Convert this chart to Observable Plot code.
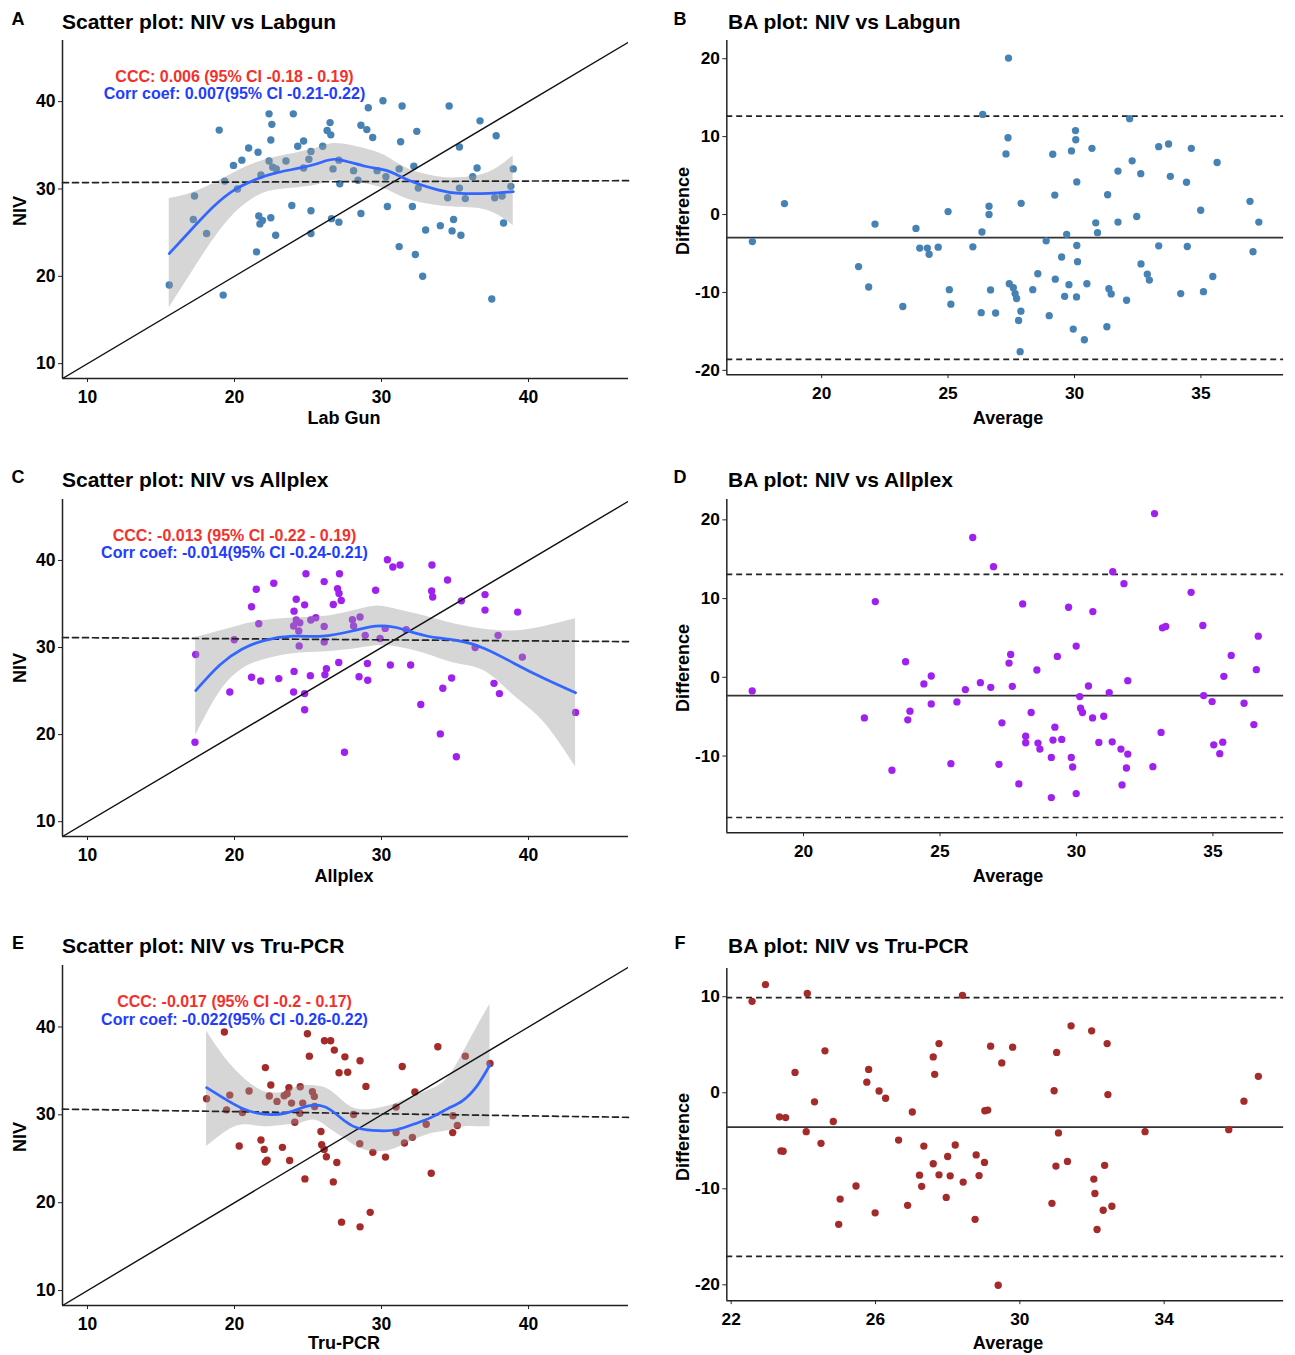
<!DOCTYPE html>
<html><head><meta charset="utf-8">
<script src="https://cdn.jsdelivr.net/npm/d3@7"></script>
<script src="https://cdn.jsdelivr.net/npm/@observablehq/plot@0.6"></script>
<style>
body{margin:0;background:#fff;}
#root{position:relative;width:1295px;height:1355px;background:#fff;font-family:"Liberation Sans",Arial,sans-serif;color:#000;overflow:hidden}
.t{position:absolute;font-weight:bold;white-space:nowrap;line-height:1}
.panel{position:absolute}
</style></head><body><div id="root"></div><script>
// ---------- data ----------
const panelLetters = ["A","B","C","D","E","F"];
const panelTitles = ["Scatter plot: NIV vs Labgun","BA plot: NIV vs Labgun","Scatter plot: NIV vs Allplex","BA plot: NIV vs Allplex","Scatter plot: NIV vs Tru-PCR","BA plot: NIV vs Tru-PCR"];
const xTitles = ["Lab Gun","Average","Allplex","Average","Tru-PCR","Average"];
const yTitles = ["NIV","Difference","NIV","Difference","NIV","Difference"];
const cccTexts = ["CCC: 0.006 (95% CI -0.18 - 0.19)","CCC: -0.013 (95% CI -0.22 - 0.19)","CCC: -0.017 (95% CI -0.2 - 0.17)"];
const corrTexts = ["Corr coef: 0.007(95% CI -0.21-0.22)","Corr coef: -0.014(95% CI -0.24-0.21)","Corr coef: -0.022(95% CI -0.26-0.22)"];

const scatterTicks = [10,20,30,40];
const scatterXDomain = [8.3,46.8];
const scatterYDomain = [8.3,47.0];

// Scatter A: Lab Gun (x) vs NIV (y)
const labgunPts = [[15.56,19.0],[19.23,17.85],[18.96,36.74],[17.28,29.2],[17.2,26.5],[18.1,24.9],[19.33,30.9],[19.93,32.7],[20.2,30.0],[20.5,33.3],[20.96,34.7],[21.6,34.2],[21.5,22.8],[21.8,31.6],[21.65,26.9],[21.73,26.0],[21.9,26.4],[22.35,38.6],[22.54,37.4],[22.47,35.6],[22.35,33.2],[22.6,32.5],[22.84,32.3],[22.47,26.7],[22.8,24.7],[23.5,33.2],[24.0,38.6],[23.9,28.1],[24.3,34.9],[24.7,35.5],[24.7,32.4],[25.06,33.4],[25.2,34.3],[25.2,27.5],[25.2,24.9],[26.0,34.9],[26.3,36.7],[26.55,36.2],[26.5,37.6],[26.7,32.3],[26.6,26.6],[27.1,33.3],[27.16,30.6],[27.1,26.2],[28.1,32.1],[28.4,31.0],[28.6,27.2],[28.6,37.3],[29.0,36.8],[29.1,39.3],[29.4,35.9],[29.7,32.1],[30.1,40.1],[30.3,31.4],[30.4,28.0],[31.2,32.3],[31.3,35.4],[31.4,39.5],[31.2,23.4],[32.1,28.0],[32.2,32.6],[32.4,36.6],[32.5,30.1],[32.3,22.5],[32.8,20.0],[33.0,25.3],[34.0,25.8],[34.5,29.0],[34.6,39.5],[34.9,26.5],[34.8,25.2],[35.3,34.8],[35.3,30.1],[35.4,24.7],[35.7,28.9],[36.2,31.4],[36.5,32.4],[36.7,37.8],[37.5,17.4],[37.7,29.0],[37.8,36.1],[38.2,29.2],[38.3,26.1],[38.8,30.3],[38.96,32.3]];
const labgunSmoothX = [15.56,17.04,18.52,20.0,21.48,22.96,25.43,26.91,28.89,30.37,31.85,33.83,35.31,37.28,38.96];
const labgunSmoothFit = [22.6,25.3,27.9,29.9,31.1,31.9,32.8,33.4,32.6,32.1,31.0,29.9,29.5,29.5,29.7];
const labgunSmoothHi = [28.9,29.5,30.6,31.9,33.0,33.7,34.6,35.2,34.6,33.7,32.3,31.4,31.3,31.9,33.8];
const labgunSmoothLo = [16.4,20.3,24.1,27.2,29.1,29.9,30.4,31.0,30.6,29.9,28.8,28.1,27.9,27.5,25.8];
const labgunReg = [30.72,30.95];

// BA B
const baLabgunPts = [[17.26,-3.47],[18.53,1.40],[21.46,-6.68],[21.86,-9.3],[22.11,-1.23],[23.21,-11.8],[23.73,-1.78],[23.88,-4.31],[24.18,-4.31],[24.25,-5.1],[24.61,-4.19],[25.0,0.38],[25.05,-9.64],[25.11,-11.5],[25.98,-4.14],[26.31,-12.6],[26.34,-2.24],[26.37,12.85],[26.62,1.06],[26.62,0.0],[26.68,-9.68],[26.88,-12.64],[27.29,7.78],[27.37,9.85],[27.39,20.08],[27.42,-8.88],[27.58,-9.39],[27.65,-10.15],[27.71,-10.78],[27.79,-13.6],[27.88,-12.4],[27.85,-17.6],[27.89,1.44],[28.35,-9.64],[28.55,-7.6],[28.88,-3.38],[29.0,-12.98],[29.14,7.74],[29.22,2.5],[29.24,-8.3],[29.49,-5.45],[29.61,-10.5],[29.69,-2.54],[29.78,-9.0],[29.88,8.16],[29.95,-14.7],[30.04,10.78],[30.05,9.6],[30.09,4.19],[30.09,-3.97],[30.12,-6.05],[30.08,-10.57],[30.39,-16.07],[30.49,-8.88],[30.69,8.5],[30.84,-1.06],[30.91,-2.33],[31.28,-14.4],[31.31,2.54],[31.36,-9.51],[31.45,-10.19],[31.72,5.58],[31.72,-0.97],[32.06,-11.0],[32.18,12.3],[32.28,6.89],[32.46,-0.25],[32.62,5.24],[32.63,-6.34],[32.88,-7.65],[32.96,-8.41],[33.33,8.71],[33.33,-4.02],[33.72,9.05],[33.79,4.9],[34.2,-10.15],[34.43,4.14],[34.46,-4.1],[34.62,8.5],[34.99,0.55],[35.1,-9.9],[35.47,-7.95],[35.64,6.68],[36.94,1.69],[37.06,-4.78],[37.29,-0.97]];
const baLabgunLines = [-2.96,12.64,-18.6]; // mean, upper, lower
const baLabgunXTicks = [20,25,30,35];
const baLabgunYTicks = [-20,-10,0,10,20];
const baLabgunXDomain = [16.25,38.27];
const baLabgunYDomain = [-20.55,22.35];

// Scatter C: Allplex
const allplexPts = [[17.36,29.2],[17.31,19.13],[19.68,24.9],[19.98,30.9],[21.16,34.68],[21.48,36.7],[21.65,32.74],[21.16,26.58],[21.78,26.16],[22.67,37.38],[23.01,26.43],[24.05,34.18],[24.02,32.47],[24.05,27.26],[24.02,24.9],[24.2,35.55],[24.2,33.16],[24.44,32.85],[24.37,31.9],[24.4,30.19],[24.77,34.9],[24.86,38.48],[24.77,24.71],[24.77,22.85],[25.19,33.16],[25.16,26.77],[25.53,33.42],[26.1,37.57],[26.1,32.43],[26.1,30.65],[26.25,27.57],[26.15,26.88],[26.72,34.94],[27.01,36.77],[27.14,38.48],[27.11,36.2],[27.26,35.4],[27.09,28.29],[27.48,17.98],[28.02,33.2],[28.1,32.47],[28.54,33.5],[28.47,26.65],[28.89,31.4],[29.04,28.17],[29.06,26.24],[29.6,36.58],[29.9,31.03],[30.25,32.2],[30.4,40.08],[30.77,39.24],[30.6,28.0],[31.26,39.47],[31.68,32.05],[31.98,28.0],[32.67,23.46],[33.43,39.47],[33.41,36.5],[33.48,35.8],[34.0,20.08],[34.17,25.32],[34.49,37.76],[34.77,26.5],[35.09,17.45],[35.43,35.36],[36.37,30.0],[37.04,36.08],[37.04,34.3],[37.65,25.89],[37.93,31.4],[38.02,24.71],[39.26,34.07],[39.58,28.9],[43.2,22.55]];
const allplexSmoothX = [17.36,19,20.5,22,24,26,28,29.6,31,33,35,37,39,41,43.2];
const allplexSmoothFit = [25.06,28.0,29.8,30.8,31.3,31.3,31.9,32.45,32.3,31.35,30.85,29.9,28.2,26.5,24.8];
const allplexSmoothHi = [31.14,31.9,32.6,33.1,33.4,33.55,34.2,34.75,34.4,33.6,32.7,32.1,31.9,32.4,33.3];
const allplexSmoothLo = [19.9,24.9,27.5,28.6,29.3,29.5,29.8,30.2,30.1,29.3,28.2,27.3,24.5,21.5,16.3];
const allplexReg = [31.15,30.68];

// BA D
const baAllplexPts = [[18.12,-1.73],[22.23,-5.15],[22.63,9.62],[23.24,-11.8],[23.74,1.98],[23.82,-5.4],[23.9,-4.3],[24.41,-0.84],[24.68,0.17],[24.68,-3.38],[25.4,-10.97],[25.62,-3.12],[25.93,-1.56],[26.2,17.76],[26.48,-0.68],[26.86,-1.27],[26.96,14.05],[27.16,-11.05],[27.27,-5.78],[27.53,1.81],[27.59,2.91],[27.65,-1.14],[27.89,-13.54],[28.03,9.32],[28.14,-7.47],[28.14,-8.31],[28.34,-4.47],[28.55,0.93],[28.59,-8.35],[28.66,-9.11],[29.08,-10.17],[29.08,-15.27],[29.14,-7.97],[29.21,-6.33],[29.3,2.66],[29.46,-7.89],[29.71,8.9],[29.81,-10.17],[29.86,-11.39],[29.99,3.97],[29.99,-14.77],[30.12,-2.45],[30.15,-3.92],[30.22,-4.47],[30.44,-1.1],[30.6,8.35],[30.59,-5.15],[30.82,-8.27],[31.0,-4.94],[31.2,-1.94],[31.33,13.42],[31.31,-8.19],[31.63,-9.11],[31.67,-13.67],[31.74,11.9],[31.83,-11.52],[31.88,-0.42],[31.88,-9.75],[32.8,-11.35],[32.86,20.8],[33.1,-7.0],[33.15,6.29],[33.27,6.46],[34.2,10.8],[34.63,6.58],[34.66,-2.32],[34.97,-3.08],[35.03,-8.57],[35.25,-9.7],[35.36,-8.23],[35.4,0.13],[35.67,2.78],[36.14,-3.29],[36.5,-6.0],[36.59,0.97],[36.66,5.23]];
const baAllplexLines = [-2.32,13.08,-17.8];
const baAllplexXTicks = [20,25,30,35];
const baAllplexYTicks = [-10,0,10,20];
const baAllplexXDomain = [17.19,37.59];
const baAllplexYDomain = [-19.73,22.6];

// Scatter E: Tru-PCR
const trupcrPts = [[18.1,31.83],[19.31,39.43],[19.46,30.57],[19.68,32.25],[20.32,26.45],[20.54,30.27],[20.99,32.71],[21.8,27.14],[22.02,26.07],[22.1,35.38],[22.1,24.62],[22.22,24.85],[22.37,32.14],[22.47,33.4],[22.89,31.53],[23.26,26.3],[23.38,32.18],[23.58,32.4],[23.7,33.1],[23.75,24.8],[23.88,31.34],[24.1,29.16],[24.44,30.19],[24.47,33.2],[24.64,31.34],[24.79,22.71],[24.96,39.24],[25.09,36.68],[25.3,32.63],[25.43,32.1],[25.45,30.95],[25.88,28.1],[25.93,26.6],[26.1,26.07],[26.12,38.44],[26.54,38.44],[26.25,25.23],[26.79,37.37],[26.72,22.37],[26.96,24.58],[27.11,34.8],[27.51,36.6],[27.7,34.85],[27.28,17.79],[28.1,30.04],[28.54,36.15],[28.52,26.72],[28.54,17.25],[28.94,33.24],[29.23,18.9],[29.41,25.73],[30.27,25.19],[30.99,30.88],[30.99,27.98],[31.41,35.5],[31.56,26.79],[32.1,27.44],[32.27,32.6],[33.04,28.93],[33.38,23.36],[33.83,37.75],[34.86,29.89],[34.84,27.98],[35.16,28.78],[35.7,36.68],[37.38,35.84]];
const trupcrSmoothX = [18.1,19.26,20.5,22,23.5,24.5,25.5,26.5,27.5,28.5,29.8,31,32.3,33.5,34.5,35.5,36.5,37.38];
const trupcrSmoothFit = [33.1,31.9,30.76,30.08,30.2,30.76,31.1,30.6,29.3,28.45,28.2,28.3,29.0,29.8,30.7,31.6,33.3,35.7];
const trupcrSmoothHi = [39.54,36.7,34.4,32.67,32.67,33.3,33.3,32.8,31.4,30.6,30.76,31.3,32.2,33.0,34.2,36.9,40.0,42.6];
const trupcrSmoothLo = [26.4,27.9,28.85,28.66,28.85,29.05,29.4,28.4,27.3,26.2,25.8,26.2,27.2,27.9,28.2,28.6,28.66,28.66];
const trupcrReg = [30.65,29.72];

// BA F
const baTrupcrPts = [[22.58,9.52],[22.95,11.26],[23.34,-2.51],[23.51,-2.58],[23.38,-6.06],[23.44,-6.09],[23.77,2.12],[24.08,-4.05],[24.11,10.34],[24.31,-0.94],[24.49,-5.27],[24.6,4.37],[24.83,-2.99],[24.98,-13.7],[25.02,-11.07],[25.46,-9.71],[25.76,1.1],[25.81,2.43],[25.99,-12.5],[26.1,0.18],[26.28,-0.57],[26.64,-4.93],[26.89,-11.72],[27.02,-2.0],[27.22,-8.58],[27.28,-9.74],[27.34,-5.55],[27.6,-7.39],[27.6,3.73],[27.64,1.92],[27.76,5.12],[27.76,-8.55],[27.96,-10.9],[28.0,-6.64],[28.07,-8.65],[28.21,-5.44],[28.41,10.14],[28.43,-9.3],[28.76,-13.18],[28.79,-6.47],[28.87,-8.62],[29.02,-7.25],[29.03,-1.87],[29.11,-1.8],[29.19,4.85],[29.4,-20.04],[29.5,3.11],[29.8,4.75],[30.89,-11.51],[30.95,0.21],[31.0,-7.63],[31.02,4.2],[31.07,-4.18],[31.32,-7.15],[31.42,6.97],[31.99,6.45],[32.05,-8.99],[32.08,-10.49],[32.14,-14.24],[32.31,-12.23],[32.35,-7.56],[32.42,5.12],[32.44,-0.19],[32.55,-11.82],[33.47,-4.05],[35.79,-3.84],[36.21,-0.88],[36.61,1.71]];
const baTrupcrLines = [-3.57,9.9,-17.04];
const baTrupcrXTicks = [22,26,30,34];
const baTrupcrYTicks = [-20,-10,0,10];
const baTrupcrXDomain = [21.88,37.31];
const baTrupcrYDomain = [-21.65,12.95];

// ---------- drawing ----------
const root = document.getElementById("root");
const FONT = '"Liberation Sans", Arial, sans-serif';
const ML = 62, MR = 12, MT = 10, MB = 36;
const AXIS = "#222";

function addText(txt, x, y, size, opts = {}) {
  const d = document.createElement("div");
  d.className = "t";
  d.textContent = txt;
  d.style.fontSize = size + "px";
  d.style.left = x + "px";
  d.style.top = y + "px";
  const tx = opts.left ? "0" : "-50%";
  d.style.transform = `translate(${tx},-50%)` + (opts.rotate ? ` rotate(${opts.rotate}deg)` : "");
  if (opts.color) d.style.color = opts.color;
  root.appendChild(d);
}

function place(svg, box) {
  const wrap = document.createElement("div");
  wrap.className = "panel";
  wrap.style.left = (box.left - ML) + "px";
  wrap.style.top = (box.top - MT) + "px";
  wrap.appendChild(svg);
  root.appendChild(wrap);
}

function axes(xd, yd, xt, yt) {
  return [
    Plot.axisX({ticks: xt, tickSize: 4, tickPadding: 8, fontSize: 17.5, label: null, tickFormat: d => String(d), stroke: AXIS}),
    Plot.axisY({ticks: yt, tickSize: 4, tickPadding: 3, fontSize: 17.5, label: null, tickFormat: d => String(d), stroke: AXIS}),
    Plot.ruleX([xd[0]], {stroke: AXIS, strokeWidth: 1.5}),
    Plot.ruleY([yd[0]], {stroke: AXIS, strokeWidth: 1.5})
  ];
}

function baseOpts(box, xd, yd) {
  const W = box.right - box.left, H = box.bottom - box.top;
  return {
    width: W + ML + MR, height: H + MT + MB,
    marginLeft: ML, marginRight: MR, marginTop: MT, marginBottom: MB,
    style: {fontFamily: FONT, fontWeight: "bold", color: "#000", background: "transparent", overflow: "visible"},
    x: {domain: xd}, y: {domain: yd}
  };
}

function scatterPanel(box, pts, color, sx, sfit, shi, slo, reg, ccc, corr) {
  const xd = scatterXDomain, yd = scatterYDomain;
  const sm = sx.map((x, i) => ({x, fit: sfit[i], lo: slo[i], hi: shi[i]}));
  const regLine = [{x: xd[0], y: reg[0]}, {x: xd[1], y: reg[1]}];
  const ident = [xd[0], xd[1]];
  const svg = Plot.plot({
    ...baseOpts(box, xd, yd),
    marks: [
      ...axes(xd, yd, scatterTicks, scatterTicks),
      Plot.dot(pts, {x: d => d[0], y: d => d[1], r: 3.7, fill: color}),
      Plot.areaY(sm, {x: "x", y1: "lo", y2: "hi", fill: "#999999", fillOpacity: 0.4, curve: "natural"}),
      Plot.line(ident, {x: d => d, y: d => d, stroke: "#111", strokeWidth: 1.4, clip: true}),
      Plot.line(regLine, {x: "x", y: "y", stroke: "#222", strokeWidth: 1.7, strokeDasharray: "6,4"}),
      Plot.line(sm, {x: "x", y: "fit", stroke: "#3366FF", strokeWidth: 2.7, curve: "natural"}),
      Plot.text([ccc], {x: 20.0, y: 42.85, text: d => d, fill: "#F5302A", fontSize: 16, fontWeight: "bold"}),
      Plot.text([corr], {x: 20.0, y: 40.85, text: d => d, fill: "#1F3DFF", fontSize: 16, fontWeight: "bold"})
    ]
  });
  place(svg, box);
}

function baPanel(box, pts, color, lines, xd, yd, xt, yt) {
  const svg = Plot.plot({
    ...baseOpts(box, xd, yd),
    marks: [
      ...axes(xd, yd, xt, yt),
      Plot.ruleY([lines[0]], {stroke: "#333", strokeWidth: 1.8}),
      Plot.ruleY([lines[1], lines[2]], {stroke: "#222", strokeWidth: 1.7, strokeDasharray: "6,4"}),
      Plot.dot(pts, {x: d => d[0], y: d => d[1], r: 3.7, fill: color})
    ]
  });
  place(svg, box);
}

const boxes = [
  {left: 62, right: 628, top: 40, bottom: 378},
  {left: 727, right: 1290, top: 40, bottom: 378},
  {left: 62, right: 628, top: 499, bottom: 836},
  {left: 727, right: 1290, top: 499, bottom: 836},
  {left: 62, right: 628, top: 965, bottom: 1305},
  {left: 727, right: 1290, top: 968, bottom: 1304}
];

const steel = "#4682B4", purple = "#A020F0", brown = "#A52A2A";
scatterPanel(boxes[0], labgunPts, steel, labgunSmoothX, labgunSmoothFit, labgunSmoothHi, labgunSmoothLo, labgunReg, cccTexts[0], corrTexts[0]);
baPanel(boxes[1], baLabgunPts, steel, baLabgunLines, baLabgunXDomain, baLabgunYDomain, baLabgunXTicks, baLabgunYTicks);
scatterPanel(boxes[2], allplexPts, purple, allplexSmoothX, allplexSmoothFit, allplexSmoothHi, allplexSmoothLo, allplexReg, cccTexts[1], corrTexts[1]);
baPanel(boxes[3], baAllplexPts, purple, baAllplexLines, baAllplexXDomain, baAllplexYDomain, baAllplexXTicks, baAllplexYTicks);
scatterPanel(boxes[4], trupcrPts, brown, trupcrSmoothX, trupcrSmoothFit, trupcrSmoothHi, trupcrSmoothLo, trupcrReg, cccTexts[2], corrTexts[2]);
baPanel(boxes[5], baTrupcrPts, brown, baTrupcrLines, baTrupcrXDomain, baTrupcrYDomain, baTrupcrXTicks, baTrupcrYTicks);

// text overlays
const rowTitleY = [21, 479, 945];
const rowXTitleY = [418, 876, 1343];
const rowMidY = [211, 668, 1137];
for (let i = 0; i < 6; i++) {
  const row = Math.floor(i / 2), col = i % 2;
  const letterX = col === 0 ? 18 : 680;
  const titleX = col === 0 ? 62 : 728;
  addText(panelLetters[i], letterX, rowTitleY[row] - 2, 18);
  addText(panelTitles[i], titleX, rowTitleY[row], 21, {left: true});
  addText(xTitles[i], col === 0 ? 344 : 1008, rowXTitleY[row], 18);
  addText(yTitles[i], col === 0 ? 20 : 683, rowMidY[row], 18, {rotate: -90});
}
</script></body></html>
